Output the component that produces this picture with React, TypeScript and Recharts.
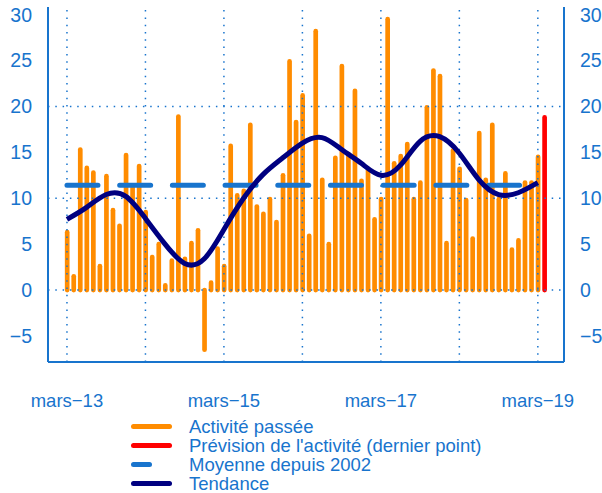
import React from 'react';
import { ComposedChart, Bar, Line, XAxis, YAxis, ReferenceLine } from 'recharts';

const BLUE = '#1874CD';
const ORANGE = '#FF8C00';
const RED = '#FF0000';
const NAVY = '#000080';
const FONT = '"Liberation Sans", Arial, Helvetica, sans-serif';

// activité passée, one value per bar (index 0..72)
const pastActivity = [
  6.3, 1.5, 15.3, 13.3, 12.8, 2.6, 12.4, 8.7, 7.0, 14.7, 11.3, 13.5,
  8.5, 3.6, 5.0, 0.5, 3.2, 18.9, 3.4, 5.1, 6.5, -6.5, 0.8, 4.5,
  2.6, 15.7, 10.3, 10.8, 18.0, 9.1, 8.3, 9.9, 7.4, 12.5, 24.9, 18.3,
  21.2, 5.9, 28.2, 12.0, 5.0, 14.4, 24.4, 14.8, 21.7, 11.9, 13.2, 7.7,
  9.9, 29.5, 13.8, 14.6, 15.9, 9.9, 11.7, 19.9, 23.9, 23.3, 5.1, 15.2,
  13.2, 9.8, 5.6, 17.1, 12.0, 18.0, 9.9, 12.7, 4.4, 5.4, 11.7, 11.7,
  14.5,
];

// prévision (dernier point)
const forecast = [18.8];

// moyenne depuis 2002
const longRunMean = 11.4;

// tendance, read at every third bar
const trendIndex = [0, 3, 6, 9, 12, 15, 18, 21, 24, 27, 30, 33, 36, 39, 42, 45, 48, 51, 54, 57, 60, 63, 66, 69, 72];
const trendValue = [7.7, 9.0, 10.4, 10.2, 7.8, 5.0, 2.9, 3.4, 6.6, 10.0, 12.6, 14.4, 16.0, 16.6, 15.3, 13.8, 12.5, 13.6, 16.2, 16.7, 14.9, 12.0, 10.4, 10.6, 11.7];

const xTickPos = [0, 24, 48, 72];
const xTickLabels = ['mars\u221213', 'mars\u221215', 'mars\u221217', 'mars\u221219'];
const yTicks = [-5, 0, 5, 10, 15, 20, 25, 30];
const gridX = [0, 12, 24, 36, 48, 60, 72];
const gridY = [0, 10, 20];

const legendItems = [
  { label: 'Activité passée', color: ORANGE, len: 41 },
  { label: "Prévision de l'activité (dernier point)", color: RED, len: 41 },
  { label: 'Moyenne depuis 2002', color: BLUE, len: 21 },
  { label: 'Tendance', color: NAVY, len: 41 },
];

const rows = [...pastActivity, ...forecast].map((v, i) => {
  const t = trendIndex.indexOf(i);
  return {
    i,
    value: v,
    forecast: i >= pastActivity.length,
    mean: i < pastActivity.length ? longRunMean : null,
    trend: t >= 0 ? trendValue[t] : null,
  };
});

const X_DOMAIN: [number, number] = [-2.9, 76];
const Y_DOMAIN: [number, number] = [-7.84, 30.83];

const fmtY = (v: number) => (v < 0 ? '\u2212' + Math.abs(v) : String(v));

const StickBar = (p: any) => {
  const { x, y, width, height, payload } = p;
  if (!height || payload == null || payload.value == null) return <g />;
  const cx = x + width / 2;
  return (
    <line
      x1={cx}
      x2={cx}
      y1={y}
      y2={y + height}
      stroke={payload.forecast ? RED : ORANGE}
      strokeWidth={4.7}
      strokeLinecap="round"
    />
  );
};

export default function App() {
  return (
    <div style={{ position: 'absolute', left: 0, top: 0, width: 602, height: 493, fontFamily: FONT, background: '#fff' }}>
      <ComposedChart width={602} height={493} data={rows} margin={{ top: 7, right: 0, bottom: 71, left: 0 }}>
        <XAxis
          dataKey="i"
          type="number"
          domain={X_DOMAIN}
          allowDataOverflow
          ticks={xTickPos}
          interval={0}
          tickFormatter={(v: number) => xTickLabels[xTickPos.indexOf(v)]}
          height={60}
          axisLine={{ stroke: BLUE, strokeWidth: 2 }}
          tickLine={false}
          tickSize={0}
          tickMargin={32}
          tick={{ fill: BLUE, fontSize: 18.5, fontFamily: FONT }}
        />
        <XAxis
          xAxisId="top"
          orientation="top"
          type="number"
          domain={X_DOMAIN}
          allowDataOverflow
          height={0}
          tick={false}
          tickLine={false}
          axisLine={{ stroke: BLUE, strokeWidth: 2 }}
        />
        <YAxis
          type="number"
          domain={Y_DOMAIN}
          allowDataOverflow
          ticks={yTicks}
          interval={0}
          width={48}
          tickFormatter={fmtY}
          axisLine={{ stroke: BLUE, strokeWidth: 2 }}
          tickLine={false}
          tickSize={0}
          tickMargin={16}
          tick={{ fill: BLUE, fontSize: 19.5, fontFamily: FONT }}
        />
        <YAxis
          yAxisId="right"
          orientation="right"
          type="number"
          domain={Y_DOMAIN}
          allowDataOverflow
          ticks={yTicks}
          interval={0}
          width={38}
          tickFormatter={fmtY}
          axisLine={{ stroke: BLUE, strokeWidth: 2 }}
          tickLine={false}
          tickSize={0}
          tickMargin={16}
          tick={{ fill: BLUE, fontSize: 19.5, fontFamily: FONT, textAnchor: 'start' }}
        />
        {gridY.map((g) => (
          <ReferenceLine key={'gy' + g} y={g} stroke={BLUE} strokeWidth={1.5} strokeDasharray="1.5 5.8" />
        ))}
        <Bar dataKey="value" barSize={5} shape={StickBar} isAnimationActive={false} />
        {gridX.map((g) => (
          <ReferenceLine key={'gx' + g} x={g} stroke={BLUE} strokeWidth={1.5} strokeDasharray="1.5 5.8" />
        ))}
        <Line
          dataKey="mean"
          stroke={BLUE}
          strokeWidth={5}
          strokeDasharray="31 21.7"
          strokeLinecap="round"
          dot={false}
          activeDot={false}
          isAnimationActive={false}
        />
        <Line
          dataKey="trend"
          type="natural"
          connectNulls
          stroke={NAVY}
          strokeWidth={5}
          dot={false}
          activeDot={false}
          isAnimationActive={false}
        />
      </ComposedChart>
      <div style={{ position: 'absolute', left: 131, top: 416.5, color: BLUE, fontSize: 18.5, lineHeight: '19px' }}>
        {legendItems.map((it) => (
          <div key={it.label} style={{ display: 'flex', alignItems: 'center', height: 19, whiteSpace: 'nowrap' }}>
            <div style={{ width: 58 }}>
              <div style={{ width: it.len, height: 5, borderRadius: 2.5, background: it.color }} />
            </div>
            <span>{it.label}</span>
          </div>
        ))}
      </div>
    </div>
  );
}
